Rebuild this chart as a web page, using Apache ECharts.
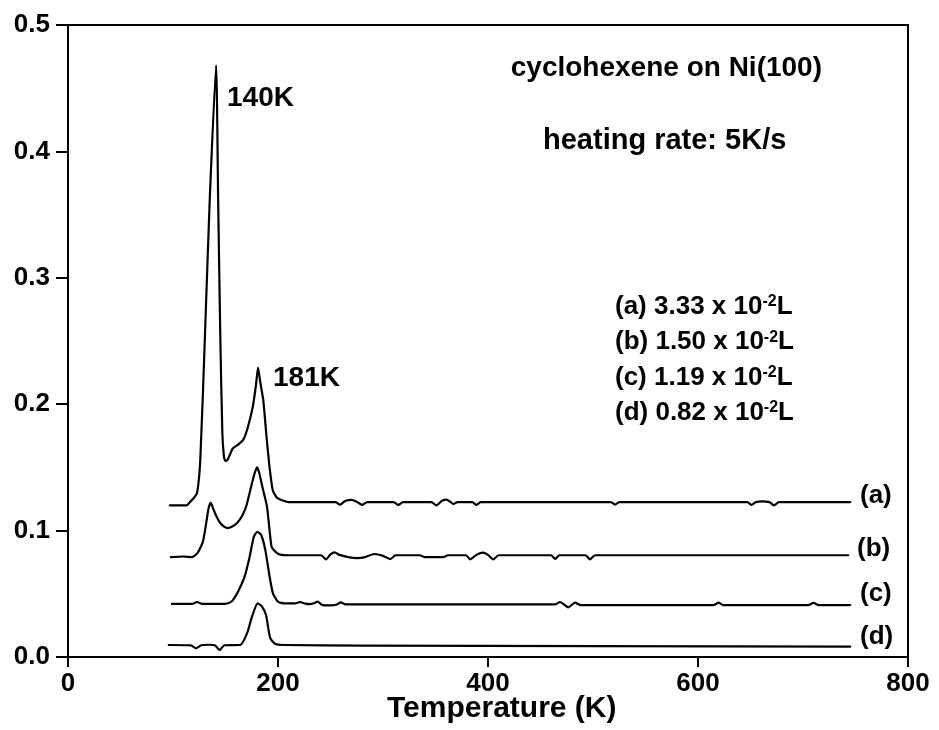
<!DOCTYPE html>
<html>
<head>
<meta charset="utf-8">
<script src="https://cdn.jsdelivr.net/npm/echarts@6/dist/echarts.min.js"></script>
<style>html,body{margin:0;padding:0;background:#fff}#c{width:939px;height:730px}</style>
</head>
<body>
<div id="c"></div>
<script>
// ---- data (temperature K, signal) ----
var xTicks = [0, 200, 400, 600, 800];
var yTicks = [0.0, 0.1, 0.2, 0.3, 0.4, 0.5];

var tempA = [97,113,116,120,123,126,130.5,135,141,143,145,147,148.6,150,152,157,162,167,171,176,179,181,183,186,189,192,195,199,204,210,
  255,259,264,270,275,280,285,310,314.6,319,346,351,356,360.6,364,367,371,385,389,393,517,521,525,647,651,655,661,668,672.4,677,745];
var sigA  = [0.120,0.120,0.1225,0.126,0.130,0.156,0.256,0.362,0.468,0.362,0.256,0.177,0.158,0.155,0.156,0.165,0.168,0.172,0.181,0.198,0.215,0.229,0.218,0.203,0.175,0.150,0.132,0.126,0.124,0.1225,
  0.1225,0.1205,0.1235,0.1243,0.1228,0.1203,0.1225,0.1225,0.1203,0.1225,0.1225,0.1200,0.1235,0.1245,0.1228,0.1210,0.1225,0.1225,0.1203,0.1225,0.1225,0.1205,0.1225,0.1225,0.1203,0.1225,0.1232,0.1225,0.1200,0.1225,0.1225];

var tempB = [98,110,118,123,127,129,132,134,136,138,141,145,149,152,156,161,166,170,173,176,178,180,182,185,189.5,192,194,198,202,210,
  241,245.7,250,254,258,262,268,275,282,292,300,307,312,335,340,357,362,379,383,389,395,400,405,410,460,464,468,493,497,502,743];
var sigB  = [0.079,0.0795,0.079,0.082,0.088,0.093,0.108,0.118,0.122,0.118,0.112,0.106,0.103,0.102,0.103,0.106,0.112,0.120,0.130,0.140,0.146,0.150,0.146,0.135,0.119,0.100,0.087,0.083,0.081,0.0805,
  0.0805,0.0772,0.0812,0.0828,0.0810,0.0800,0.0788,0.0782,0.0788,0.0815,0.0800,0.0775,0.0805,0.0805,0.0790,0.0790,0.0805,0.0805,0.0773,0.0808,0.0825,0.0808,0.0773,0.0805,0.0805,0.0777,0.0805,0.0805,0.0772,0.0805,0.0805];

var tempC = [99,118,123,128,149,155.5,161.9,168.2,173,177,180.3,184,187.9,192,195.2,200,206,
  216,221,226,230.5,234,237.8,242,249.5,256,259.7,264,464,468.6,476.5,482.9,488,615,619.7,624,705,710,715,745];
var sigC  = [0.042,0.042,0.0435,0.042,0.042,0.0437,0.0517,0.0636,0.0794,0.0952,0.0991,0.0965,0.0847,0.0636,0.0504,0.0437,0.0424,
  0.0424,0.0435,0.0422,0.0418,0.0425,0.0438,0.0412,0.0408,0.0415,0.0432,0.0417,0.0417,0.0435,0.0393,0.0430,0.0411,0.0411,0.0430,0.0411,0.0411,0.0428,0.0411,0.0411];

var tempD = [96,117,122,127,135,140,144.4,149,164,170.5,175.2,180.6,184.8,188.6,190.5,192.7,197.5,205,281,745];
var sigD  = [0.0095,0.0092,0.0069,0.0093,0.0097,0.0092,0.0055,0.0093,0.0095,0.0187,0.0319,0.0424,0.0398,0.0332,0.024,0.0148,0.0103,0.0095,0.0090,0.0082];

var curveNames = ['(a)', '(b)', '(c)', '(d)'];
var exposures = ['3.33', '1.50', '1.19', '0.82'];
var peakLabels = ['140K', '181K'];

function pairs(xs, ys) { return xs.map(function (x, i) { return [x, ys[i]]; }); }

var chart = echarts.init(document.getElementById('c'), null, {renderer: 'canvas'});
var F = 'Liberation Sans, Arial, Helvetica, sans-serif';
var black = '#000';

function lineSeries(xs, ys) {
  return {
    type: 'line', data: pairs(xs, ys), showSymbol: false, symbol: 'none',
    smooth: 0.2,
    lineStyle: {color: black, width: 2.2, join: 'round', cap: 'round'}, silent: true, animation: false
  };
}

var legendGraphics = curveNames.map(function (n, i) {
  return {
    type: 'text', left: 615, top: 294 + i * 35.3,
    style: {
      text: n + ' ' + exposures[i] + ' x 10{s|-2}L',
      font: 'bold 26px ' + F, fill: black,
      rich: {s: {font: 'bold 16px ' + F, fill: black, verticalAlign: 'top', lineHeight: 16}}
    }
  };
});

var curveLabelPos = [[860, 483], [857, 536], [860, 581], [860, 624]];
var curveLabelGraphics = curveNames.map(function (n, i) {
  return {type: 'text', left: curveLabelPos[i][0], top: curveLabelPos[i][1],
    style: {text: n, font: 'bold 26px ' + F, fill: black}};
});

var option = {
  animation: false,
  backgroundColor: '#fff',
  grid: {left: 68, right: 31, top: 25, bottom: 73, show: true, borderColor: black, borderWidth: 2, backgroundColor: 'transparent'},
  xAxis: {
    type: 'value', min: xTicks[0], max: xTicks[xTicks.length - 1], interval: 200,
    axisLine: {show: true, lineStyle: {color: black, width: 2}},
    axisTick: {show: true, inside: false, length: 10, lineStyle: {color: black, width: 2}},
    axisLabel: {margin: 14, color: black, fontFamily: F, fontWeight: 'bold', fontSize: 26},
    splitLine: {show: false}
  },
  yAxis: {
    type: 'value', min: yTicks[0], max: yTicks[yTicks.length - 1], interval: 0.1,
    axisLine: {show: true, lineStyle: {color: black, width: 2}},
    axisTick: {show: true, inside: false, length: 12, lineStyle: {color: black, width: 2}},
    axisLabel: {margin: 18, color: black, fontFamily: F, fontWeight: 'bold', fontSize: 26,
      formatter: function (v) { return v.toFixed(1); }},
    splitLine: {show: false}
  },
  series: [lineSeries(tempA, sigA), lineSeries(tempB, sigB), lineSeries(tempC, sigC), lineSeries(tempD, sigD)],
  graphic: [
    {type: 'text', left: 387, top: 694, style: {text: 'Temperature (K)', font: 'bold 30px ' + F, fill: black}},
    {type: 'text', right: 939 - 822, top: 54, style: {text: 'cyclohexene on Ni(100)', font: 'bold 28px ' + F, fill: black}},
    {type: 'text', left: 543, top: 126, style: {text: 'heating rate: 5K/s', font: 'bold 29px ' + F, fill: black}},
    {type: 'text', left: 227, top: 84, style: {text: peakLabels[0], font: 'bold 28px ' + F, fill: black}},
    {type: 'text', left: 273, top: 364, style: {text: peakLabels[1], font: 'bold 28px ' + F, fill: black}}
  ].concat(legendGraphics).concat(curveLabelGraphics)
};
chart.setOption(option);
</script>
</body>
</html>
